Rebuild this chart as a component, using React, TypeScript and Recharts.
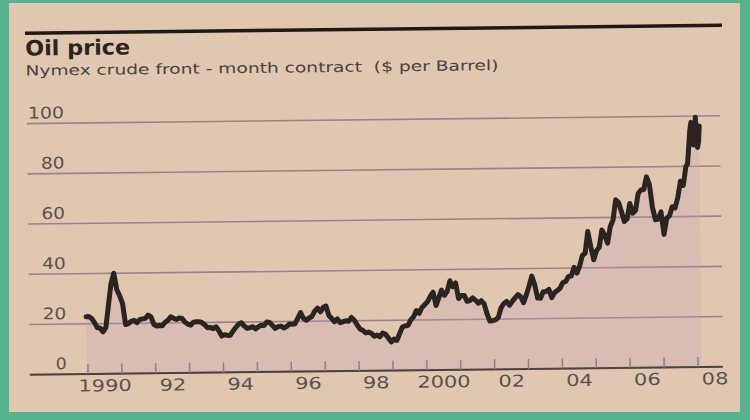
import React from 'react';
import { ComposedChart, Line, Area, XAxis, YAxis, CartesianGrid } from 'recharts';

// ---- data (WTI front-month, $ per barrel) ----
const firstPoint = { date: '1989-12-18', price: 22.8 };

const years = [1990, 1991, 1992, 1993, 1994, 1995, 1996, 1997, 1998, 1999, 2000, 2001, 2002, 2003, 2004, 2005, 2006, 2007];

const p1990 = [22.9, 22.1, 20.4, 18.4, 18.2, 16.7, 18.5, 27.3, 36.0, 40.0, 33.5, 31.0];
const p1991 = [28.0, 19.5, 19.9, 20.8, 21.2, 20.2, 21.4, 21.7, 21.9, 23.2, 22.5, 19.5];
const p1992 = [18.8, 19.0, 18.9, 20.2, 21.0, 22.4, 21.8, 21.3, 21.9, 21.7, 20.3, 19.4];
const p1993 = [19.0, 20.1, 20.3, 20.3, 20.0, 19.1, 17.9, 18.0, 17.5, 18.2, 16.6, 14.5];
const p1994 = [15.0, 14.8, 14.7, 16.4, 17.9, 19.1, 19.7, 18.4, 17.5, 17.7, 18.1, 17.2];
const p1995 = [18.0, 18.6, 18.5, 19.9, 19.7, 18.5, 17.3, 18.0, 18.2, 17.4, 18.0, 19.0];
const p1996 = [18.9, 19.1, 21.3, 23.5, 21.2, 20.4, 21.3, 21.9, 24.0, 25.2, 23.7, 25.4];
const p1997 = [26.0, 22.2, 21.0, 19.7, 20.8, 19.3, 19.7, 20.0, 19.8, 21.3, 20.2, 18.3];
const p1998 = [16.7, 16.1, 15.1, 15.4, 14.9, 13.7, 14.2, 13.5, 15.0, 14.5, 13.0, 11.4];
const p1999 = [12.5, 12.0, 14.7, 17.3, 17.7, 17.9, 20.1, 21.3, 23.8, 22.7, 25.0, 26.1];
const p2000 = [27.3, 29.4, 31.0, 25.7, 28.8, 31.8, 29.7, 31.3, 35.5, 33.1, 34.6, 28.4];
const p2001 = [29.6, 29.6, 27.2, 27.5, 28.6, 27.6, 26.4, 27.4, 26.2, 22.2, 19.3, 19.4];
const p2002 = [19.7, 20.7, 24.5, 26.2, 27.0, 25.5, 27.0, 28.4, 29.7, 28.8, 26.4, 29.5];
const p2003 = [33.0, 37.0, 33.5, 28.2, 28.1, 30.7, 30.8, 31.6, 28.3, 30.3, 31.1, 32.1];
const p2004 = [34.3, 34.7, 36.7, 36.8, 40.3, 38.0, 40.8, 44.9, 45.9, 54.5, 48.5, 43.2];
const p2005 = [46.8, 48.2, 55.0, 53.0, 49.8, 56.4, 59.0, 67.0, 66.0, 62.3, 58.3, 59.4];
const p2006 = [65.5, 61.6, 62.7, 69.4, 70.8, 71.0, 76.0, 73.0, 63.8, 58.9, 59.1, 62.0];
const p2007 = [53.0, 59.3, 60.4, 64.0, 63.5, 67.5, 74.1, 72.4, 79.9];

const yearly = [p1990, p1991, p1992, p1993, p1994, p1995, p1996, p1997, p1998, p1999, p2000, p2001, p2002, p2003, p2004, p2005, p2006, p2007];

const lateDates = ['2007-10-05', '2007-10-20', '2007-11-01', '2007-11-15', '2007-11-30', '2007-12-10', '2007-12-24', '2008-01-02', '2008-01-15', '2008-01-23', '2008-02-04', '2008-02-12'];
const latePrices = [81.0, 88.0, 94.0, 97.5, 89.0, 88.5, 93.0, 99.5, 92.0, 87.5, 90.0, 96.0];

const yTicks = [0, 20, 40, 60, 80, 100];
const xTicks = [1990, 1991, 1992, 1993, 1994, 1995, 1996, 1997, 1998, 1999, 2000, 2001, 2002, 2003, 2004, 2005, 2006, 2007, 2008];

const TITLE = 'Oil price';
const SUBTITLE = 'Nymex crude front - month contract  ($ per Barrel)';

// ---- layout / style ----
const W = 750;
const H = 420;
const X_DOMAIN: [number, number] = [1988.283, 2008.731];
const Y_DOMAIN: [number, number] = [0, 100];
const MARGIN = { top: 119.7, right: 29, bottom: 19.3, left: 27 };
const Y_AXIS_W = 1;
const PLOT_W = W - MARGIN.left - Y_AXIS_W - MARGIN.right;
const HALF_YEAR = PLOT_W / (X_DOMAIN[1] - X_DOMAIN[0]) / 2;

const PAPER = '#dfc7b0';
const GREEN = '#55b38e';
const INK = '#2b2522';
const LABEL = '#5a524e';
const FONT = '"DejaVu Sans", Verdana, sans-serif';

function decimalYear(s: string): number {
  const d = new Date(s + 'T00:00:00Z');
  const y = d.getUTCFullYear();
  const a = Date.UTC(y, 0, 1);
  const b = Date.UTC(y + 1, 0, 1);
  return y + (d.getTime() - a) / (b - a);
}

const data: { t: number; price: number }[] = [];
data.push({ t: decimalYear(firstPoint.date), price: firstPoint.price });
years.forEach((yr, i) => {
  yearly[i].forEach((v, m) => data.push({ t: yr + (m + 0.5) / 12, price: v }));
});
lateDates.forEach((d, i) => data.push({ t: decimalYear(d), price: latePrices[i] }));

function xLabel(v: number): string | null {
  if (v % 2 !== 0) return null;
  if (v === 1990 || v === 2000) return String(v);
  return String(v).slice(2);
}

const XTick = (props: any) => {
  const { x, y, payload } = props;
  const label = xLabel(payload.value);
  const len = label ? label.length * 13.3 : 0;
  return (
    <g>
      <line x1={x} x2={x} y1={y} y2={y - 10} stroke="#8f7f84" strokeWidth={1.5} />
      {label && (
        <text
          x={x + HALF_YEAR - len / 2}
          y={y + 17.5}
          textLength={len}
          lengthAdjust="spacingAndGlyphs"
          fontFamily={FONT}
          fontSize={16.5}
          fill={LABEL}
        >
          {label}
        </text>
      )}
    </g>
  );
};

const YTick = (props: any) => {
  const { y, payload } = props;
  const s = String(payload.value);
  const len = s.length * 12.5 - 1.5;
  return (
    <text
      x={65 - len}
      y={y - 5}
      textLength={len}
      lengthAdjust="spacingAndGlyphs"
      fontFamily={FONT}
      fontSize={16}
      fill={LABEL}
    >
      {s}
    </text>
  );
};

export default function App() {
  return (
    <div style={{ position: 'absolute', left: 0, top: 0, width: W, height: H, background: GREEN, overflow: 'hidden' }}>
      <div style={{ position: 'absolute', left: 9, top: 3, width: 731, height: 409, background: PAPER }} />
      <div
        style={{
          position: 'absolute',
          left: 0,
          top: 0,
          width: W,
          height: H,
          transform: 'rotate(-0.65deg)',
          transformOrigin: '375px 210px',
        }}
      >
        <svg width={W} height={H} style={{ position: 'absolute', left: 0, top: 0 }}>
          <rect x={27} y={27.5} width={697} height={3.5} fill="#1f1a18" />
          <text
            x={27}
            y={51.5}
            fontFamily={FONT}
            fontWeight="bold"
            fontSize={21}
            textLength={105}
            lengthAdjust="spacingAndGlyphs"
            fill={INK}
          >
            {TITLE}
          </text>
          <text
            x={27}
            y={71.5}
            fontFamily={FONT}
            fontSize={14}
            textLength={473}
            lengthAdjust="spacingAndGlyphs"
            fill="#4a4340"
            style={{ whiteSpace: 'pre' }}
          >
            {SUBTITLE}
          </text>
        </svg>
        <div style={{ position: 'absolute', left: 0, top: 0 }}>
          <ComposedChart width={W} height={H} data={data} margin={MARGIN}>
            <CartesianGrid vertical={false} stroke="#9c8290" strokeWidth={1.6} />
            <XAxis
              dataKey="t"
              type="number"
              domain={X_DOMAIN}
              allowDataOverflow
              ticks={xTicks}
              interval={0}
              height={30}
              tickSize={0}
              tickMargin={0}
              tickLine={false}
              axisLine={{ stroke: '#4b4340', strokeWidth: 2 }}
              tick={<XTick />}
            />
            <YAxis
              type="number"
              domain={Y_DOMAIN}
              ticks={yTicks}
              interval={0}
              width={Y_AXIS_W}
              tickSize={0}
              tickMargin={0}
              axisLine={false}
              tickLine={false}
              tick={<YTick />}
            />
            <Area
              type="linear"
              dataKey="price"
              stroke="none"
              fill="#c9a2bf"
              fillOpacity={0.26}
              baseValue={0}
              isAnimationActive={false}
            />
            <Line
              type="linear"
              dataKey="price"
              stroke={INK}
              strokeWidth={5}
              strokeLinejoin="round"
              strokeLinecap="round"
              dot={false}
              activeDot={false}
              isAnimationActive={false}
            />
          </ComposedChart>
        </div>
      </div>
    </div>
  );
}
